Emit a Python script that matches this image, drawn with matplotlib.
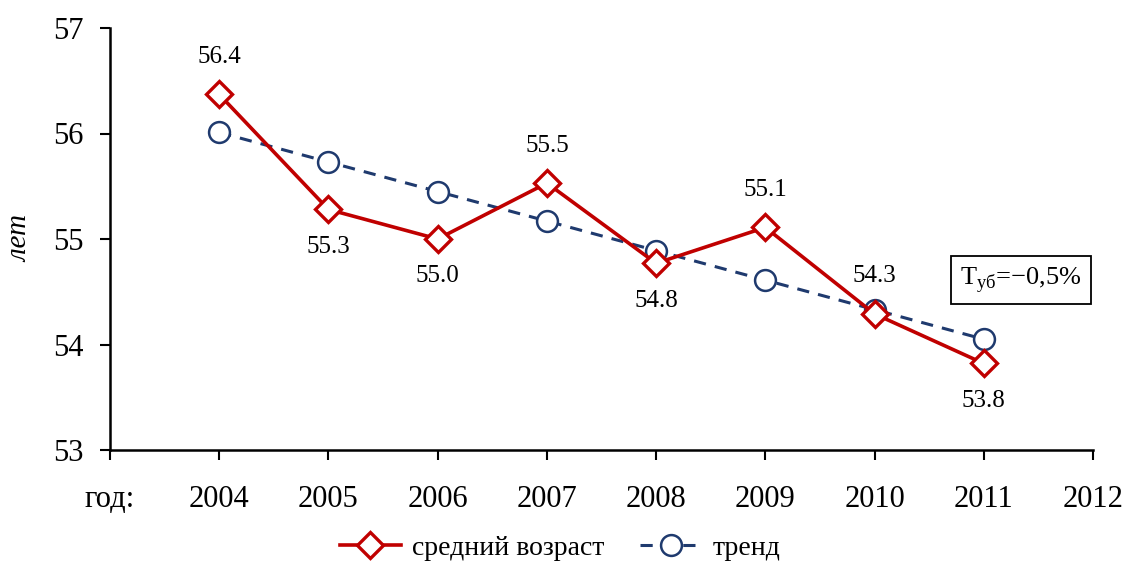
import matplotlib
matplotlib.use("Agg")
import matplotlib.pyplot as plt

years = [2004, 2005, 2006, 2007, 2008, 2009, 2010, 2011]
avg_age = [56.37, 55.28, 55.0, 55.53, 54.77, 55.11, 54.29, 53.82]
avg_labels = ["56.4", "55.3", "55.0", "55.5", "54.8", "55.1", "54.3", "53.8"]
label_above = [True, False, False, True, False, True, True, False]
trend = [56.01, 55.73, 55.45, 55.17, 54.89, 54.61, 54.33, 54.05]
xticks = [2003, 2004, 2005, 2006, 2007, 2008, 2009, 2010, 2011, 2012]
xticklabels = ["год:", "2004", "2005", "2006", "2007", "2008", "2009", "2010", "2011", "2012"]
yticks = [53, 54, 55, 56, 57]

plt.rcParams['font.family'] = ['Liberation Serif', 'DejaVu Serif']
plt.rcParams['mathtext.fontset'] = 'custom'
plt.rcParams['mathtext.rm'] = 'Liberation Serif'

red = '#C00000'
navy = '#1F3A6E'

fig = plt.figure(figsize=(11.27, 5.63), dpi=100)
ax = fig.add_axes([110/1127, 1-450/563, (1093-110)/1127, (450-28)/563])

ax.plot(years, trend, linestyle=(0, (4, 3)), color=navy, lw=2.2, marker='o',
        markersize=15, markerfacecolor='white', markeredgecolor=navy, markeredgewidth=1.8,
        label='тренд', zorder=3)
ax.plot(years, avg_age, color=red, lw=2.6, marker='D', markersize=13,
        markerfacecolor='white', markeredgecolor=red, markeredgewidth=2.4,
        label='средний возраст', zorder=4)

for x, y, s, up in zip(years, avg_age, avg_labels, label_above):
    ax.annotate(s, (x, y), xytext=(0, 27 if up else -27), textcoords='offset points',
                ha='center', va='center', fontsize=18)

ax.set_xlim(2003, 2012)
ax.set_ylim(53, 57)
ax.set_xticks(xticks)
ax.set_xticklabels(xticklabels)
ax.set_yticks(yticks)
ax.tick_params(axis='both', labelsize=22, length=7, width=1.5, direction='out', colors='black')
ax.tick_params(axis='x', pad=18)
ax.tick_params(axis='y', pad=12)
for s in ['top', 'right']:
    ax.spines[s].set_visible(False)
for s in ['left', 'bottom']:
    ax.spines[s].set_linewidth(1.8)

ax.set_ylabel('лет', fontsize=21, style='italic', labelpad=14)

ax.text(2011.34, 54.61, r'T$_{\mathrm{уб}}$=−0,5%', fontsize=19, ha='center', va='center',
        bbox=dict(boxstyle='square,pad=0.35', facecolor='white', edgecolor='black', lw=1.3))

handles, labels = ax.get_legend_handles_labels()
fig.legend(handles[::-1], labels[::-1], loc='center', bbox_to_anchor=(560/1127, 1-548/563),
           ncol=2, frameon=False, fontsize=20, handlelength=2.2, columnspacing=1.3, handletextpad=0.4)

fig.savefig('out.png', dpi=100)
